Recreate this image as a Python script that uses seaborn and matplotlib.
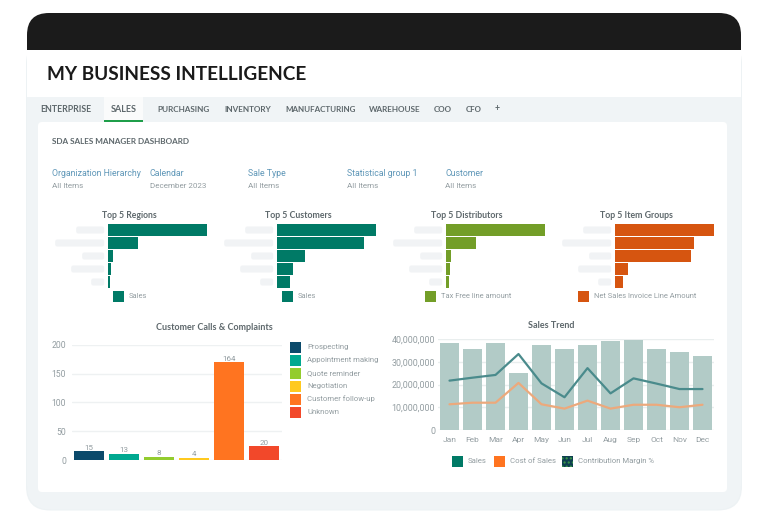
import matplotlib
matplotlib.use("Agg")
import matplotlib.pyplot as plt
from matplotlib.patches import FancyBboxPatch, Rectangle
import seaborn as sns
import pandas as pd

tabs = ["ENTERPRISE", "SALES", "PURCHASING", "INVENTORY", "MANUFACTURING", "WAREHOUSE", "COO", "CFO", "+"]
filter_names = ["Organization Hierarchy", "Calendar", "Sale Type", "Statistical group 1", "Customer"]
filter_values = ["All Items", "December 2023", "All Items", "All Items", "All Items"]

top_titles = ["Top 5 Regions", "Top 5 Customers", "Top 5 Distributors", "Top 5 Item Groups"]
top_series = ["Sales", "Sales", "Tax Free line amount", "Net Sales Invoice Line Amount"]
top_ranks = ["1", "2", "3", "4", "5"]
regions = [100, 30, 4.5, 3, 2]
customers = [100, 87.5, 27.7, 15.5, 13]
distributors = [100, 30, 5, 3.5, 2.5]
item_groups = [100, 80, 76.5, 12.5, 8]
redacted_label_widths = [28, 49, 22, 33, 13]

call_types = ["Prospecting", "Appointment making", "Quote reminder", "Negotiation", "Customer follow-up", "Unknown"]
call_heights = [15, 11, 6, 4, 170, 24]
call_labels = ["15", "13", "8", "4", "164", "20"]

months = ["Jan", "Feb", "Mar", "Apr", "May", "Jun", "Jul", "Aug", "Sep", "Oct", "Nov", "Dec"]
sales = [38.2e6, 35.7e6, 38.2e6, 25.2e6, 37.2e6, 35.7e6, 37.2e6, 39.1e6, 39.5e6, 35.7e6, 34.3e6, 32.4e6]
cost_of_sales = [11.3e6, 12e6, 12e6, 20.7e6, 11.3e6, 9.4e6, 12.9e6, 9.4e6, 11.1e6, 11.1e6, 10e6, 11.1e6]
margin = [21.7e6, 23e6, 24.2e6, 33.4e6, 20.5e6, 14.4e6, 27.2e6, 16.1e6, 22.7e6, 20.4e6, 18e6, 18e6]

sns.set_theme(style="white")
HEAD = ["Lato", "DejaVu Sans"]
plt.rcParams["font.family"] = ["Roboto", "DejaVu Sans"]

W, H = 768, 527
fig = plt.figure(figsize=(W / 100, H / 100), dpi=100, facecolor="white")
ui = fig.add_axes([0, 0, 1, 1], zorder=0)
ui.set_xlim(0, W); ui.set_ylim(H, 0); ui.axis("off")
rend = fig.canvas.get_renderer()

def box(x0, y0, x1, y1, color, r=0, **kw):
    if r:
        ui.add_patch(FancyBboxPatch((x0 + r, y0 + r), x1 - x0 - 2 * r, y1 - y0 - 2 * r,
                                    boxstyle=f"round,pad={r},rounding_size={r}", fc=color, ec="none", **kw))
    else:
        ui.add_patch(Rectangle((x0, y0), x1 - x0, y1 - y0, fc=color, ec="none", **kw))

def fit(x, y, s, width, **kw):
    """Text whose size is scaled so that it spans `width` pixels, starting at x."""
    t = ui.text(x, y, s, fontsize=10, va="center", **kw)
    t.set_fontsize(10 * width / t.get_window_extent(rend).width)
    return t

def axes_px(x0, y0, x1, y1):
    return fig.add_axes([x0 / W, 1 - y1 / H, (x1 - x0) / W, (y1 - y0) / H], zorder=2, facecolor="none")

TXT = "#5e686c"; TICK = "#939da1"; BLUE = "#5f97b8"
box(26, 40, 742, 510.5, "#edf2f4", r=24)
box(27, 40, 741, 509.5, "#f0f4f6", r=24)
box(27, 13, 741, 90, "#1b1b1b", r=22)
box(27, 49.5, 741, 97, "white")
box(38, 122, 727, 492, "white", r=4)
box(104, 97, 143, 120, "#fafbfb")
box(104, 119.5, 143, 121.5, "#1f9e4a")

fit(47, 74, "MY BUSINESS INTELLIGENCE", 261, fontweight="bold", color="#1a1a1a", family=HEAD)
tab_x = [40, 111, 157, 224, 285, 369, 434, 466, 495]
tab_w = [51, 26, 53, 47, 71, 52, 18, 16, 5]
for t, x, w in zip(tabs, tab_x, tab_w):
    fit(x, 109, t, w, fontweight="bold", color=TXT, family=HEAD)
fit(52, 141, "SDA SALES MANAGER DASHBOARD", 138, fontweight="bold", color=TXT, family=HEAD)
for n, v, x in zip(filter_names, filter_values, [52, 150, 248, 347, 445]):
    ui.text(x, 173, n, fontsize=6.3, color=BLUE, va="center")
    ui.text(x, 186, v, fontsize=5.8, color=TICK, va="center")

# Top-5 bar panels
top_data = [regions, customers, distributors, item_groups]
top_colors = ["#007a66", "#007a66", "#739e28", "#d65510"]
top_x0 = [108.2, 277.2, 446.2, 615.2]
top_legend_x = [113, 282, 425, 578]
top_title_x = [102, 265, 431, 600]
top_title_w = [55, 67, 72, 73]
for title, name, vals, col, x0, lx, tx, tw in zip(top_titles, top_series, top_data, top_colors, top_x0, top_legend_x, top_title_x, top_title_w):
    ax = axes_px(x0, 223.5, x0 + 99, 288.5)
    df = pd.DataFrame({"rank": top_ranks, "value": vals})
    sns.barplot(data=df, x="value", y="rank", color=col, saturation=1, width=0.85, linewidth=0, ax=ax)
    ax.set_xlim(0, 100)
    ax.axis("off")
    for i, w in enumerate(redacted_label_widths):
        yc = 230 + 13 * i
        box(x0 - 4 - w, yc - 3.5, x0 - 4, yc + 3.5, "#f1f3f5", r=2)
    fit(tx, 216, title, tw, fontweight="bold", color=TXT, family=HEAD)
    ui.add_patch(Rectangle((lx, 290.5), 11, 11, fc=col, ec="none"))
    ui.text(lx + 16, 296, name, fontsize=5.4, color=TICK, va="center")

# Customer calls
call_colors = ["#0b4a6b", "#00a890", "#93cc2e", "#ffc91f", "#ff7420", "#f2482a"]
ax = axes_px(71.5, 344.7, 281.5, 460)
cdf = pd.DataFrame({"type": call_types, "n": call_heights})
sns.barplot(data=cdf, x="type", y="n", hue="type", palette=call_colors, saturation=1, width=0.885, linewidth=0, legend=False, ax=ax)
ax.set_xlim(-0.5, 5.5); ax.set_ylim(0, 200)
ax.set_yticks([0, 50, 100, 150, 200]); ax.set_xticks([])
ax.set_xlabel(""); ax.set_ylabel("")
ax.grid(axis="y", color="#eef1f2", lw=1); ax.set_axisbelow(True)
ax.tick_params(axis="y", labelsize=6.2, labelcolor=TICK, length=0, pad=4)
sns.despine(ax=ax, left=True, bottom=True, top=True, right=True)
for i, (h, l) in enumerate(zip(call_heights, call_labels)):
    ax.text(i, h + 0.5, l, ha="center", va="bottom", fontsize=5.8, color=TICK)
fit(156, 327, "Customer Calls & Complaints", 116, fontweight="bold", color=TXT, family=HEAD)
for i, (c, t) in enumerate(zip(call_colors, call_types)):
    y = 347 + 13 * i
    ui.add_patch(Rectangle((290, y - 5.5), 11, 11, fc=c, ec="none"))
    ui.text(307, y, t, fontsize=5.6, color=TICK, va="center")

# Sales trend
ax = axes_px(438, 339, 714, 430)
sdf = pd.DataFrame({"month": months, "sales": sales, "cost": cost_of_sales, "margin": margin})
sns.barplot(data=sdf, x="month", y="sales", color="#b2cbc7", saturation=1, width=0.8, linewidth=0, ax=ax)
sns.lineplot(data=sdf, x="month", y="margin", color="#4a8b8c", lw=1.6, ax=ax)
sns.lineplot(data=sdf, x="month", y="cost", color="#eca97c", lw=1.6, ax=ax)
ax.set_xlim(-0.5, 11.5); ax.set_ylim(0, 40e6)
ax.set_yticks([0, 10e6, 20e6, 30e6, 40e6])
ax.set_yticklabels(["0", "10,000,000", "20,000,000", "30,000,000", "40,000,000"])
ax.set_xlabel(""); ax.set_ylabel("")
ax.grid(axis="y", color="#e9eeee", lw=1); ax.set_axisbelow(True)
ax.tick_params(axis="y", labelsize=6.4, labelcolor=TICK, length=0, pad=2)
ax.tick_params(axis="x", labelsize=6, labelcolor=TICK, length=0, pad=5)
sns.despine(ax=ax, left=True, bottom=True, top=True, right=True)
fit(528, 326, "Sales Trend", 47, fontweight="bold", color=TXT, family=HEAD)
legend_items = [("Sales", "#007a66", 452, None), ("Cost of Sales", "#ff7420", 494, None), ("Contribution Margin %", "#0e4050", 562, "....")]
for t, c, x, hatch in legend_items:
    ui.add_patch(Rectangle((x, 455.5), 11, 11, fc=c, ec="#3c9a4a" if hatch else "none", lw=0, hatch=hatch))
    ui.text(x + 16, 461, t, fontsize=5.6, color=TICK, va="center")

fig.savefig("out.png", dpi=100)
